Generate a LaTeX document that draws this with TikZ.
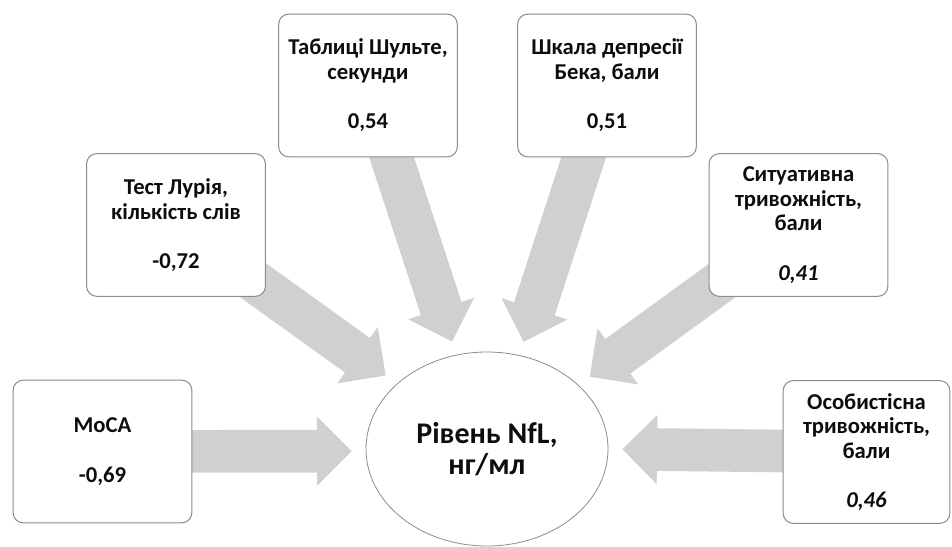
\documentclass[tikz,border=0pt]{standalone}
\usepackage{fontspec}
\setmainfont{Carlito}
\usepackage{tikz}
\usetikzlibrary{calc, shapes.geometric, backgrounds}

\definecolor{arrowgray}{HTML}{D0D0D0}
\definecolor{boxgray}{HTML}{8C8C8C}
\definecolor{inkgray}{HTML}{0D0D0D}

\tikzset{
  factor/.style = {draw=boxgray, line width=0.75pt, rounded corners=7.5pt, fill=white,
    minimum width=134pt, minimum height=107pt, inner sep=2pt, align=center,
    text=inkgray, font=\bfseries\fontsize{17}{18.5}\selectfont},
  target/.style = {ellipse, draw=boxgray, line width=0.6pt, fill=white, inner sep=0pt,
    minimum width=181.5pt, minimum height=145.5pt, align=center,
    text=inkgray, font=\bfseries\fontsize{22.5}{23.5}\selectfont},
  % block arrow: shaft from the box centre (hidden under the box), tip short of the ellipse
  blockarrow/.style = {fill=arrowgray, draw=none, to path={
    let \p1=(\tikztostart.center), \p2=(\tikztotarget.center),
        \n1={atan2(\y1-\y2,\x1-\x2)},
        \p3=($(\tikztotarget.\n1)!10.5pt!(\p1)$),
        \p4=($(\p3)!26pt!(\p1)$) in
    ($(\p1)!16pt!90:(\p3)$) -- ($(\p4)!16pt!-90:(\p1)$) -- ($(\p4)!26pt!-90:(\p1)$)
    -- (\p3) -- ($(\p4)!26pt!90:(\p1)$) -- ($(\p4)!16pt!90:(\p1)$)
    -- ($(\p1)!16pt!-90:(\p3)$) -- cycle}}
}

\begin{document}
\begin{tikzpicture}[x=0.75pt, y=0.75pt]
\useasboundingbox (0,0) rectangle (952,546);
\node[target](nfl) at (487,97) {Рівень NfL,\\нг/мл};
\node[factor](moca) at (102.5,94.5) {MoCA\\[18.5pt]-0,69};
\node[factor](luria) at (176,321) {Тест Лурія,\\кількість слів\\[18.5pt]-0,72};
\node[factor](schulte) at (368,460.5) {Таблиці Шульте,\\секунди\\[18.5pt]0,54};
\node[factor](beck) at (607,460.5) {Шкала депресії\\Бека, бали\\[18.5pt]0,51};
\node[factor](situat) at (798.5,321) {Ситуативна\\тривожність,\\бали\\[18.5pt]\textit{0,41}};
\node[factor, minimum width=125pt](person) at (866.5,94) {Особистісна\\тривожність,\\бали\\[18.5pt]\textit{0,46}};
\begin{pgfonlayer}{background}
\path[blockarrow] (moca) to (nfl);
\path[blockarrow] (luria) to (nfl);
\path[blockarrow] (schulte) to (nfl);
\path[blockarrow] (beck) to (nfl);
\path[blockarrow] (situat) to (nfl);
\path[blockarrow] (person) to (nfl);
\end{pgfonlayer}
\end{tikzpicture}
\end{document}
